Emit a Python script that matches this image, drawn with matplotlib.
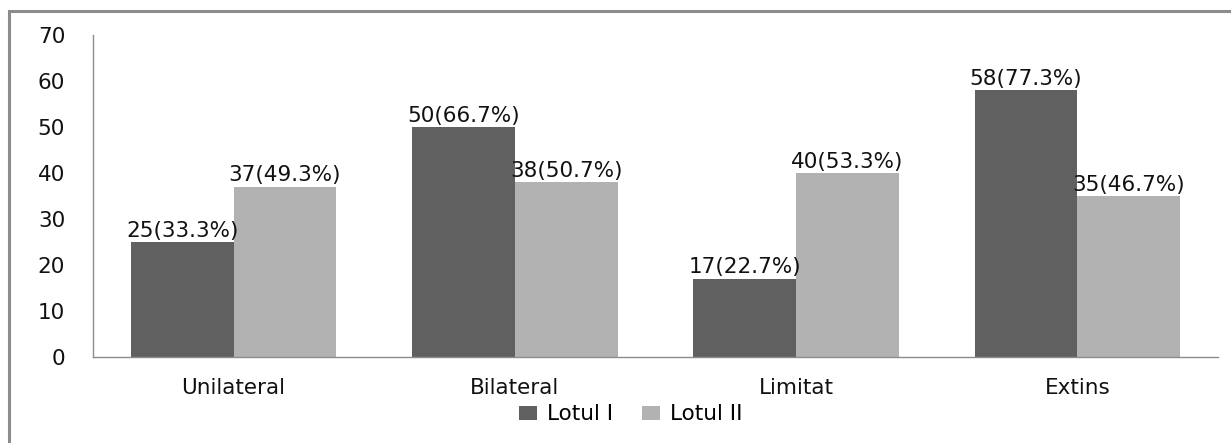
import numpy as np
import matplotlib.pyplot as plt
from matplotlib.patches import Rectangle

categorii = ["Unilateral", "Bilateral", "Limitat", "Extins"]
lotul1 = [25, 50, 17, 58]
lotul2 = [37, 38, 40, 35]
proc1 = [33.3, 66.7, 22.7, 77.3]
proc2 = [49.3, 50.7, 53.3, 46.7]

plt.rcParams['font.family'] = 'DejaVu Sans'
fs = 15.5

fig = plt.figure(figsize=(12.31, 4.43), dpi=100)
ax = fig.add_axes([0.0755, 0.194, 0.914, 0.727])

x = np.arange(len(categorii))
w = 0.365
b1 = ax.bar(x - w / 2, lotul1, w, color='#606060', label='Lotul I')
b2 = ax.bar(x + w / 2, lotul2, w, color='#b2b2b2', label='Lotul II')

for bars, vals, pr in [(b1, lotul1, proc1), (b2, lotul2, proc2)]:
    for r, v, p in zip(bars, vals, pr):
        ax.text(r.get_x() + r.get_width() / 2, v + 0.3, f"{v}({p}%)",
                ha='center', va='bottom', fontsize=fs, color='#111111')

ax.set_xlim(-0.5, len(categorii) - 0.5)
ax.set_ylim(0, 70)
ax.set_yticks(range(0, 71, 10))
ax.set_xticks(x)
ax.set_xticklabels(categorii)
ax.tick_params(axis='both', length=0, labelsize=fs, colors='#111111')
ax.tick_params(axis='y', pad=20)
ax.tick_params(axis='x', pad=15)

for s in ['top', 'right']:
    ax.spines[s].set_visible(False)
for s in ['left', 'bottom']:
    ax.spines[s].set_color('#8c8c8c')
    ax.spines[s].set_linewidth(1)

ax.legend(loc='upper center', bbox_to_anchor=(0.478, -0.10), ncol=2,
          frameon=False, fontsize=fs, handlelength=0.84, handleheight=0.6,
          handletextpad=0.45, columnspacing=1.35, borderpad=0.2)

# chenar exterior
fig.patches.append(Rectangle((9 / 1231, -0.1), 1.2, 432 / 443 + 0.1,
                             transform=fig.transFigure, fill=False,
                             edgecolor='#8c8c8c', linewidth=2.2))

fig.savefig('out.png', dpi=100)
